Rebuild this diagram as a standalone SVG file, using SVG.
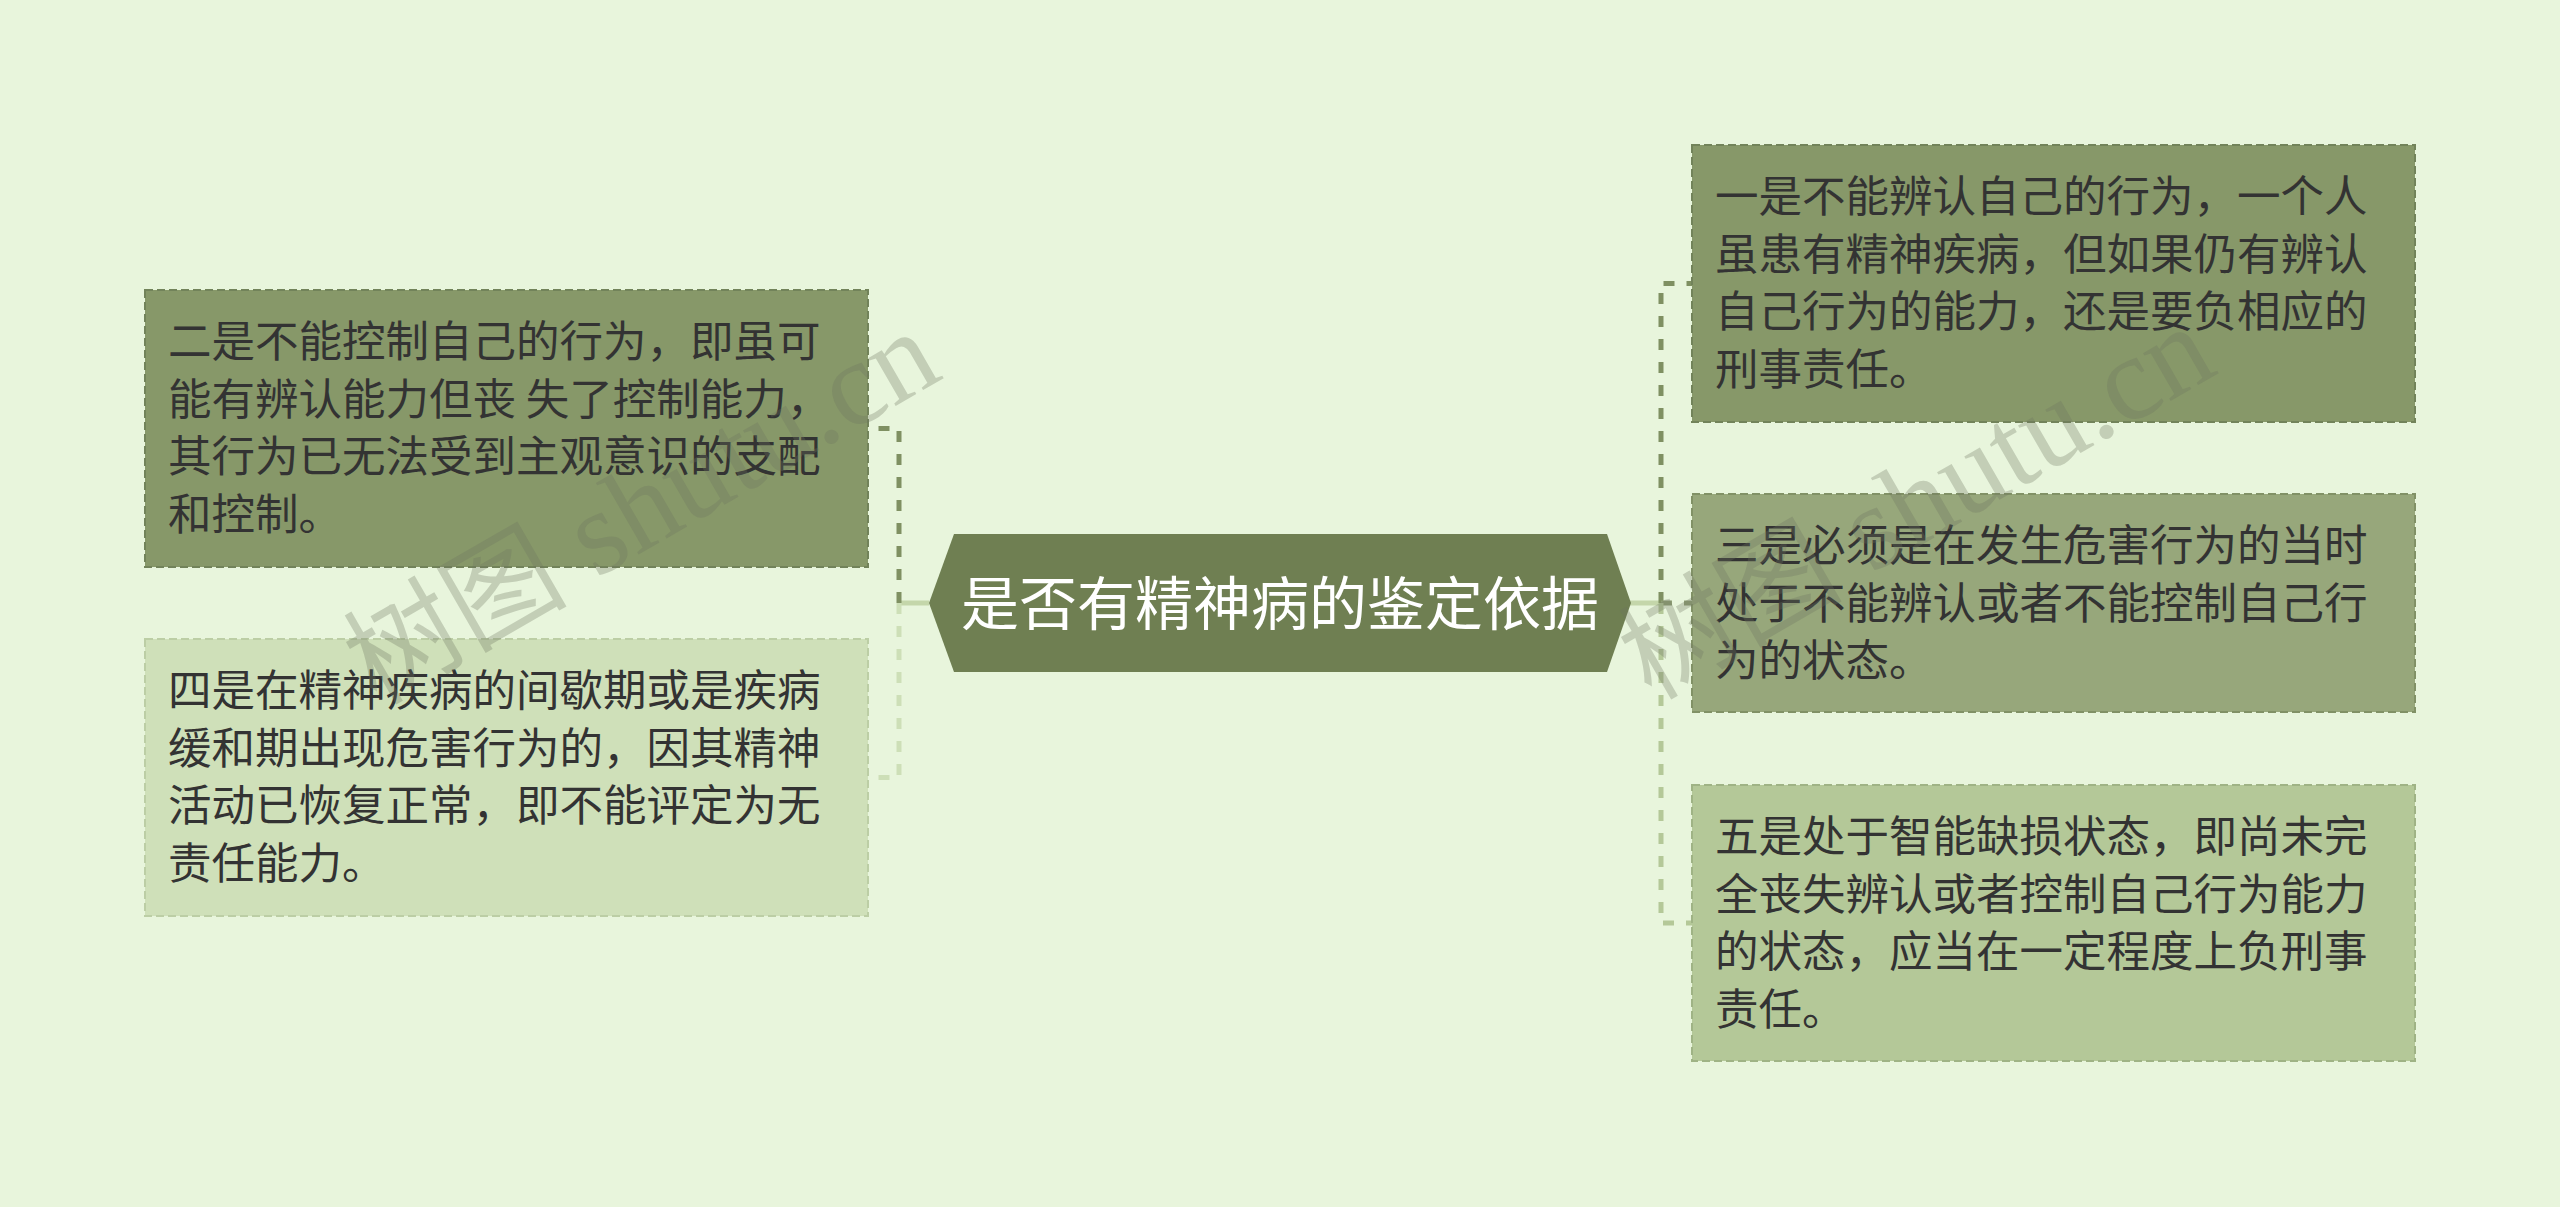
<svg xmlns="http://www.w3.org/2000/svg" width="2560" height="1207" viewBox="0 0 2560 1207">
<defs>
<style>
.bg{fill:#e8f5dc}
.node{stroke-width:2;stroke-dasharray:8 4}
.t{font-family:"Noto Sans CJK SC","Noto Sans",sans-serif;font-size:43.5px;fill:#333333}
.root-t{font-family:"Noto Sans CJK SC","Noto Sans",sans-serif;font-size:58px;fill:#ffffff}
.stub{fill:none;stroke:#c4d6aa;stroke-width:5}
.conn{fill:none;stroke-width:5;stroke-dasharray:11 12}
.wm{font-family:"Liberation Serif","Noto Sans CJK SC",serif;font-size:120px;fill:#6e7560;fill-opacity:0.3}
.wm-cjk{font-size:112px}
</style>
</defs>
<rect class="bg" x="0" y="0" width="2560" height="1207"/>

<g id="connectors">
<line class="stub" x1="929" y1="603" x2="899" y2="603"/>
<line class="stub" x1="1630" y1="603" x2="1661" y2="603"/>
<path class="conn" stroke="#7f9062" d="M899,603 V428.5 H868"/>
<path class="conn" stroke="#cddfb7" d="M899,603 V777.5 H868"/>
<path class="conn" stroke="#7f9062" d="M1661,603 V283.5 H1692"/>
<path class="conn" stroke="#8e9e74" d="M1661,603 H1692"/>
<path class="conn" stroke="#b4c898" d="M1661,603 V923 H1692"/>
</g>

<g id="root">
<polygon points="929,603 954,534 1607,534 1631,603 1607,672 954,672" fill="#6f7f52"/>
<text class="root-t" x="1280" y="625" text-anchor="middle">是否有精神病的鉴定依据</text>
</g>

<g id="node-er">
<rect class="node" x="145" y="290" width="723" height="277" fill="#879869" stroke="#72835a"/>
<text class="t"><tspan x="168" y="357">二是不能控制自己的行为，即虽可</tspan><tspan x="168" y="414.5">能有辨认能力但丧 失了控制能力，</tspan><tspan x="168" y="472">其行为已无法受到主观意识的支配</tspan><tspan x="168" y="529.5">和控制。</tspan></text>
</g>

<g id="node-si">
<rect class="node" x="145" y="639" width="723" height="277" fill="#cfe0b9" stroke="#bccea5"/>
<text class="t"><tspan x="168" y="706">四是在精神疾病的间歇期或是疾病</tspan><tspan x="168" y="763.5">缓和期出现危害行为的，因其精神</tspan><tspan x="168" y="821">活动已恢复正常，即不能评定为无</tspan><tspan x="168" y="878.5">责任能力。</tspan></text>
</g>

<g id="node-yi">
<rect class="node" x="1692" y="145" width="723" height="277" fill="#879869" stroke="#72835a"/>
<text class="t"><tspan x="1715" y="212">一是不能辨认自己的行为，一个人</tspan><tspan x="1715" y="269.5">虽患有精神疾病，但如果仍有辨认</tspan><tspan x="1715" y="327">自己行为的能力，还是要负相应的</tspan><tspan x="1715" y="384.5">刑事责任。</tspan></text>
</g>

<g id="node-san">
<rect class="node" x="1692" y="494" width="723" height="218" fill="#97a77b" stroke="#819166"/>
<text class="t"><tspan x="1715" y="561">三是必须是在发生危害行为的当时</tspan><tspan x="1715" y="618.5">处于不能辨认或者不能控制自己行</tspan><tspan x="1715" y="676">为的状态。</tspan></text>
</g>

<g id="node-wu">
<rect class="node" x="1692" y="785" width="723" height="276" fill="#b4c898" stroke="#9fb385"/>
<text class="t"><tspan x="1715" y="852">五是处于智能缺损状态，即尚未完</tspan><tspan x="1715" y="909.5">全丧失辨认或者控制自己行为能力</tspan><tspan x="1715" y="967">的状态，应当在一定程度上负刑事</tspan><tspan x="1715" y="1024.5">责任。</tspan></text>
</g>

<g id="watermarks">
<text class="wm" transform="translate(376,706) rotate(-30)"><tspan class="wm-cjk">树图</tspan> shutu.cn</text>
<text class="wm" transform="translate(1651,701) rotate(-30)"><tspan class="wm-cjk">树图</tspan> shutu.cn</text>
</g>
</svg>
